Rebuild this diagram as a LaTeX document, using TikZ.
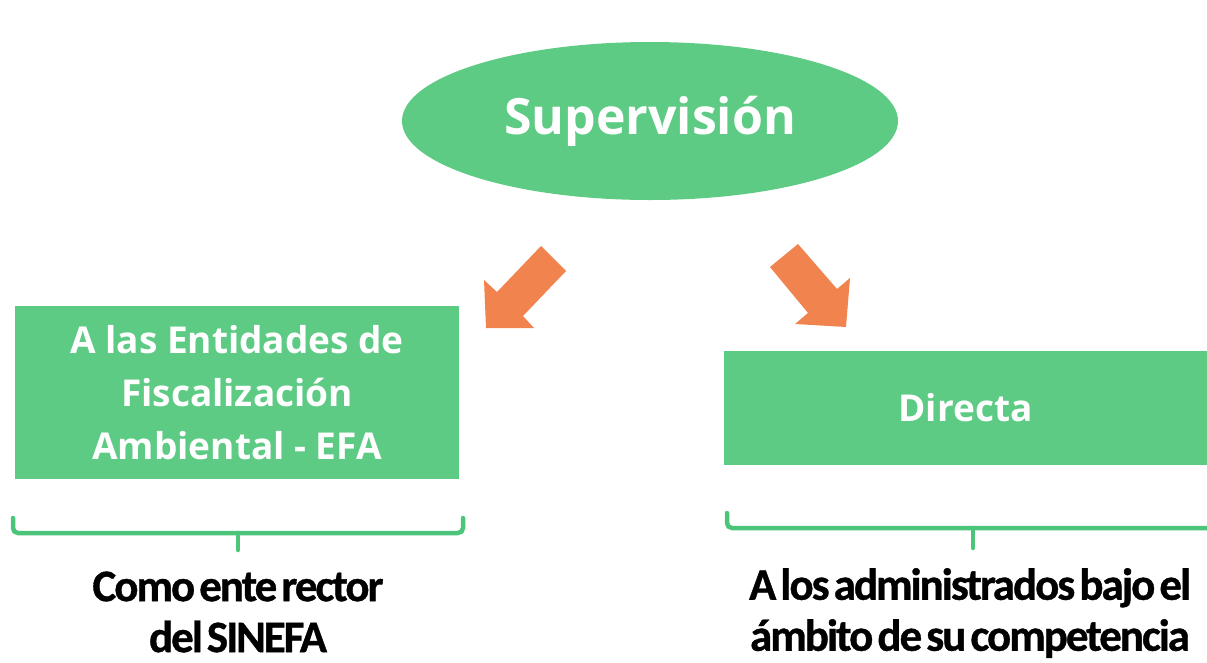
\documentclass[tikz,border=0pt]{standalone}
\usepackage{fontspec}
\setmainfont{Open Sans}
\newfontfamily\carlito[LetterSpace=-4.5,WordSpace=0.5,FakeBold=0.8]{Carlito}
\usetikzlibrary{shapes.geometric}
\definecolor{boxgreen}{HTML}{5DCB84}
\definecolor{bracegreen}{HTML}{4CC47A}
\definecolor{arroworange}{HTML}{F0834E}
\tikzset{cell/.style={fill=boxgreen,text=white,font=\fontsize{37}{53}\selectfont\bfseries,align=center,inner sep=0pt}}
\tikzset{note/.style={font=\carlito\fontsize{45}{51}\selectfont\bfseries,align=center}}
\tikzset{brace/.style={draw=bracegreen,line width=4.5pt,rounded corners=5pt,line cap=round}}
\tikzset{blockarrow/.style={fill=arroworange}}

\begin{document}
\begin{tikzpicture}[x=1pt,y=-1pt]
          \useasboundingbox (0,0) rectangle (1207,662);
          \node[ellipse,fill=boxgreen,text=white,minimum width=496,minimum height=158,inner sep=0pt,font=\fontsize{50}{60}\selectfont\bfseries] (sup) at (650,121) {Supervisión};
          \node[cell,minimum width=444,minimum height=173] (efa) at (237,392.5) {A las Entidades de\\Fiscalización\\Ambiental - EFA};
          \node[cell,minimum width=483,minimum height=114] (dir) at (965.5,408) {Directa};
          % arrows
          \fill[blockarrow] (541,246)--(566,271)--(523,316)--(534,328)--(486,328)--(484,280)--(497,292)--cycle;
          \fill[blockarrow] (798,244)--(837,289)--(850,278)--(846,327)--(795,324)--(808,313)--(770,267)--cycle;
          % braces
          \draw[brace] (13,518)--(13,533)--(463,533)--(463,518);
          \draw[brace] (238,533)--(238,550);
          \draw[brace] (727,513)--(727,528)--(1212,528);
          \draw[brace] (973,528)--(973,548);
          \node[note] (rector) at (238,612) {Como ente rector\\del SINEFA};
          \node[note] (admin) at (970,613) {A los administrados bajo el\\ámbito de su competencia};
        \end{tikzpicture}
\end{document}
